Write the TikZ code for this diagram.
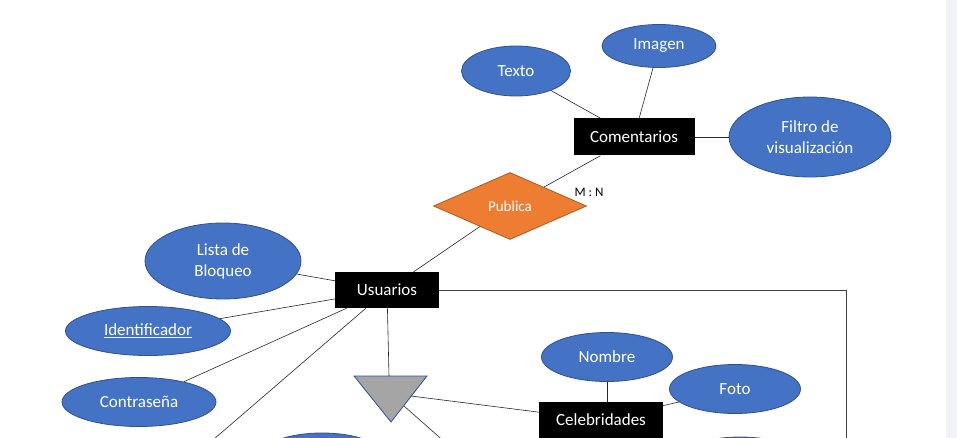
\documentclass[tikz,border=0pt]{standalone}
\usepackage{fontspec}
\setmainfont{Carlito}
\usetikzlibrary{shapes.geometric}
\definecolor{attrfill}{HTML}{4472C4}
\definecolor{attrline}{HTML}{2F528F}
\definecolor{relfill}{HTML}{ED7D31}
\definecolor{relline}{HTML}{AE5A21}
\definecolor{trifill}{HTML}{A5A5A5}
\definecolor{panel}{HTML}{F2F3F7}
\begin{document}
\begin{tikzpicture}[x=1pt, y=-1pt,
  every node/.style={font=\fontsize{17}{21}\selectfont},
  attr/.style={draw=attrline, fill=attrfill, ellipse, text=white, align=center, inner sep=0pt, line width=0.8pt},
  ent/.style={fill=black, text=white, inner sep=0pt},
  rel/.style={diamond, draw=relline, fill=relfill, text=white, inner sep=0pt, line width=0.8pt,
              font=\fontsize{15}{18}\selectfont, minimum width=153pt, minimum height=67pt},
  every edge/.style={draw, line width=0.6pt, black!85}]
\useasboundingbox (0,0) rectangle (957,438);
\clip (0,0) rectangle (957,438);
\fill[panel] (946,0) rectangle (957,438);
\node  (texto)[attr, minimum width=109pt, minimum height=50pt]  at (516,71)  {Texto};
\node  (imagen)[attr, minimum width=114pt, minimum height=43pt] at (659,46)  {Imagen};
\node  (coment)[ent, minimum width=121pt, minimum height=37pt]  at (634,137) {Comentarios};
\node  (filtro)[attr, minimum width=162pt, minimum height=80pt] at (810,137) {Filtro de\\visualización};
\node  (publica)[rel]                                             at (510,206) {Publica};
\node  (mn)[font=\fontsize{13}{15}\selectfont]                    at (589,192) {M : N};
\node  (usu)[ent, minimum width=104pt, minimum height=36pt]     at (387,290) {Usuarios};
\node  (lista)[attr, minimum width=156pt, minimum height=76pt]  at (223,261) {Lista de\\Bloqueo};
\node  (ident)[attr, minimum width=165pt, minimum height=49pt]  at (148,331) {\underline{Identificador}};
\node  (contra)[attr, minimum width=154pt, minimum height=49pt] at (139,402) {Contraseña};
\node  (celeb)[ent, minimum width=124pt, minimum height=36pt]   at (601,420) {Celebridades};
\node  (nombre)[attr, minimum width=131pt, minimum height=49pt] at (607,357) {Nombre};
\node  (foto)[attr, minimum width=131pt, minimum height=49pt]   at (735,389) {Foto};
\node  (atr1)[attr, minimum width=128pt, minimum height=50pt]   at (322,458) {};
\node  (atr2)[attr, minimum width=130pt, minimum height=50pt]   at (740,462) {};
% triangulo de especializacion
\coordinate (ta) at (354,376);
\coordinate (tb) at (427,376);
\coordinate (tc) at (391,422);
\draw[fill=trifill, draw=attrline, line width=0.8pt] (ta) -- (tb) -- (tc) -- cycle;
\coordinate (ttop) at (389,376);
\coordinate (tr1)  at (411,396);
\coordinate (tr2)  at (404,406);
\coordinate (tout) at (455,451);
\coordinate (uout) at (192,458);
\coordinate (esq)  at (846,290);
\coordinate (baja) at (846,450);
\path 	(texto)edge(coment)
		(imagen)edge(coment)
		(coment)edge(filtro)
		(coment)edge(publica)
		(publica)edge(usu)
		(lista)edge(usu)
		(ident)edge(usu)
		(contra)edge(usu)
		(usu)edge(uout)
		(usu)edge(ttop)
		(tr1)edge(celeb)
		(tr2)edge(tout)
		(nombre.south)edge(nombre.south |- celeb.north)
		(foto)edge(celeb);
\draw[line width=0.6pt, black!75] (usu.east) -- (esq) -- (baja);
\end{tikzpicture}
\end{document}
